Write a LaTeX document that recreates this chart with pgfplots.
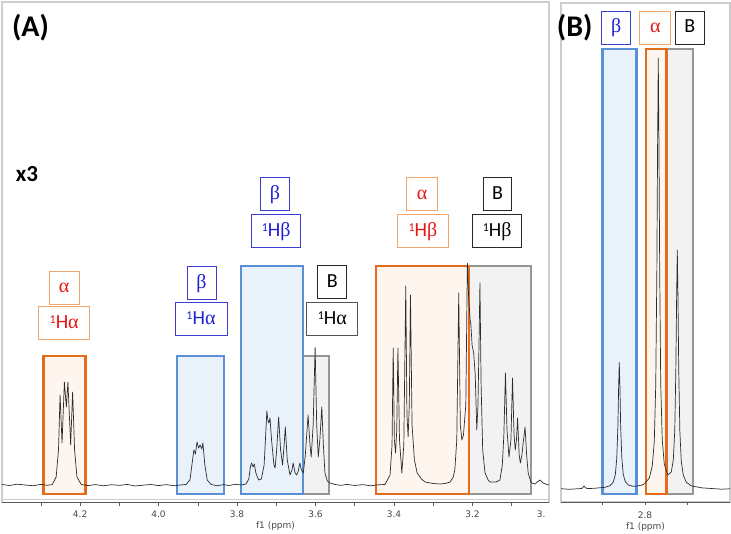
\documentclass[border=0pt]{standalone}
\usepackage{fontspec}
\setmainfont{Carlito}
\newfontfamily\dejavu{DejaVu Sans}
\newfontfamily\grk{Liberation Serif}
\usepackage{pgfplots}
\pgfplotsset{compat=1.18}
\definecolor{orgedge}{RGB}{226,110,28}
\definecolor{orgfill}{RGB}{253,245,238}
\definecolor{bluedge}{RGB}{90,145,214}
\definecolor{blufill}{RGB}{233,241,251}
\definecolor{gryedge}{RGB}{150,150,150}
\definecolor{gryfill}{RGB}{242,242,242}
\definecolor{framegray}{RGB}{205,205,205}
\definecolor{axisdark}{RGB}{90,90,90}
\definecolor{labgray}{RGB}{70,70,70}
\definecolor{lblorange}{RGB}{240,165,110}
\definecolor{lblred}{RGB}{230,20,20}
\definecolor{lblblue}{RGB}{60,60,215}
\definecolor{txtblue}{RGB}{30,30,210}
\definecolor{lblblack}{RGB}{40,40,40}
\definecolor{specline}{RGB}{45,45,45}
\newcommand{\Hl}[1]{\raisebox{5pt}{\fontsize{12}{12}\selectfont 1}H#1}
\tikzset{lab/.style={draw, line width=0.8pt, minimum height=33pt, inner sep=0pt, text height=12pt, text depth=1pt, font=\fontsize{20}{22}\selectfont}}
\pgfplotsset{nmr/.style={
  scale only axis, x dir=reverse,
  axis line style={draw=framegray, line width=1.2pt},
  ytick=\empty, xtick pos=left, tick align=outside,
  major tick length=3pt, minor tick length=3pt,
  tick style={draw=axisdark, line width=0.6pt},
  minor tick style={draw=axisdark, line width=0.6pt},
  xticklabel style={font=\dejavu\fontsize{9}{10}\selectfont, text=labgray},
  xlabel style={font=\dejavu\fontsize{9}{10}\selectfont, text=labgray, at={(rel axis cs:0.5,0)}, anchor=center},
  /pgf/number format/fixed, /pgf/number format/fixed zerofill,
  /pgf/number format/precision=1, /pgf/number format/assume math mode=true,
  line join=miter}}
\begin{document}
\begin{tikzpicture}
\useasboundingbox (0pt,0pt) rectangle (731pt,534pt);
% ---------------- Panel A ----------------
\begin{axis}[nmr, at={(2pt,31.3pt)}, anchor=south west, width=547pt, height=500.7pt,
  xmin=3.005, xmax=4.399, ymin=-17.7, ymax=483,
  xtick={3.2,3.4,3.6,3.8,4.0,4.2}, minor xtick={3.1,3.3,3.5,3.7,3.9,4.1,4.3},
  xlabel={f1 (ppm)}, xlabel style={yshift=-23pt}, xticklabel style={yshift=-1.5pt}]
\addplot[fill=gryfill, draw=gryedge, line width=2.2pt] coordinates {(3.631,-9) (3.566,-9) (3.566,129) (3.631,129)} -- cycle;
\addplot[fill=gryfill, draw=gryedge, line width=2.2pt] coordinates {(3.209,-9) (3.050,-9) (3.050,219) (3.209,219)} -- cycle;
\addplot[fill=blufill, draw=bluedge, line width=2.2pt] coordinates {(3.953,-9) (3.834,-9) (3.834,129) (3.953,129)} -- cycle;
\addplot[fill=blufill, draw=bluedge, line width=2.2pt] coordinates {(3.790,-9) (3.631,-9) (3.631,219) (3.790,219)} -- cycle;
\addplot[fill=orgfill, draw=orgedge, line width=2.2pt] coordinates {(4.293,-9) (4.186,-9) (4.186,129) (4.293,129)} -- cycle;
\addplot[fill=orgfill, draw=orgedge, line width=2.2pt] coordinates {(3.445,-9) (3.209,-9) (3.209,219) (3.445,219)} -- cycle;
\addplot[draw=specline, line width=0.7pt, line join=round] coordinates {
(4.399,0.5) (4.38,-0.5) (4.36,0.8) (4.34,0) (4.32,-0.7) (4.30,0.6) (4.285,-0.3)
(4.271,0.3) (4.261,8) (4.255,35) (4.251,90) (4.246,42) (4.240,103) (4.235,78)
(4.231,103) (4.224,40) (4.219,93) (4.214,35) (4.208,8) (4.197,0.5)
(4.18,-0.6) (4.16,0.4) (4.14,-0.8) (4.12,0.3) (4.10,-0.4) (4.08,0.6) (4.06,-1.0)
(4.04,-0.2) (4.02,0.5) (4.00,-0.6) (3.98,0.4) (3.96,-0.8) (3.945,0)
(3.930,0.5) (3.920,5) (3.915,20) (3.910,35) (3.906,31) (3.902,43) (3.898,37)
(3.894,40) (3.890,36) (3.887,42) (3.882,20) (3.876,5) (3.866,0.5)
(3.85,-0.8) (3.835,0.4) (3.82,-0.5) (3.805,0.7) (3.79,0)
(3.777,1) (3.770,6) (3.766,18) (3.763,22) (3.759,18) (3.756,21) (3.752,12)
(3.745,5) (3.738,6) (3.731,20) (3.727,50) (3.724,74) (3.721,64) (3.719,62)
(3.716,67) (3.712,45) (3.706,20) (3.703,17) (3.699,35) (3.694,68) (3.689,35)
(3.684,20) (3.680,40) (3.677,58) (3.672,25) (3.665,10) (3.660,15) (3.657,22)
(3.652,12) (3.648,10) (3.644,14) (3.640,22) (3.636,15) (3.631,12) (3.626,30)
(3.619,70) (3.614,40) (3.611,28) (3.606,60) (3.601,138) (3.597,60) (3.593,28)
(3.589,45) (3.584,78) (3.580,40) (3.576,12) (3.570,4) (3.563,2)
(3.55,0.5) (3.535,-0.4) (3.52,0.6) (3.50,-0.5) (3.48,0.4) (3.46,-0.8) (3.44,0.2)
(3.423,0.5) (3.410,10) (3.405,40) (3.402,137) (3.399,45) (3.396,32) (3.393,55)
(3.390,137) (3.386,45) (3.380,12) (3.375,40) (3.370,199) (3.367,70) (3.364,48)
(3.361,80) (3.358,190) (3.354,60) (3.348,25) (3.341,12) (3.33,6) (3.321,3)
(3.30,1.5) (3.283,1) (3.27,1.5) (3.257,3) (3.249,8) (3.245,15) (3.240,45)
(3.235,192) (3.231,60) (3.227,45) (3.223,50) (3.217,80) (3.213,222) (3.210,190)
(3.206,165) (3.204,160) (3.201,140) (3.197,132) (3.193,110) (3.189,55) (3.186,80)
(3.183,150) (3.181,202) (3.178,100) (3.174,35) (3.168,12) (3.160,5) (3.155,3)
(3.140,3) (3.130,5) (3.124,20) (3.120,50) (3.116,112) (3.112,55) (3.107,28)
(3.102,45) (3.098,107) (3.094,50) (3.091,35) (3.088,45) (3.085,67) (3.081,30)
(3.078,22) (3.074,30) (3.070,45) (3.066,58) (3.062,30) (3.058,12) (3.052,4)
(3.049,2) (3.04,1) (3.035,3) (3.028,5) (3.020,2) (3.010,0.5) (3.005,0)};
\end{axis}
\draw[draw=framegray, line width=1pt] (2pt,34.3pt) -- (549pt,34.3pt);
\draw[draw=axisdark, line width=0.9pt] (2pt,31.3pt) -- (549pt,31.3pt);
\node[anchor=north east, font=\dejavu\fontsize{9}{10}\selectfont, text=labgray] at (549pt,26.8pt) {3.};
% ---------------- Panel B ----------------
\begin{axis}[nmr, at={(561pt,32pt)}, anchor=south west, width=169pt, height=499pt,
  xmin=2.6995, xmax=2.8993, ymin=-13, ymax=486,
  xtick={2.8}, minor xtick={2.75,2.85},
  xlabel={f1 (ppm)}, xlabel style={yshift=-25pt},
  xticklabel style={yshift=-3pt}]
\addplot[fill=gryfill, draw=gryedge, line width=2.2pt] coordinates {(2.7740,-5) (2.7433,-5) (2.7433,440) (2.7740,440)} -- cycle;
\addplot[fill=blufill, draw=bluedge, line width=2.2pt] coordinates {(2.8502,-5) (2.8100,-5) (2.8100,440) (2.8502,440)} -- cycle;
\addplot[fill=orgfill, draw=orgedge, line width=2.2pt] coordinates {(2.7988,-5) (2.7746,-5) (2.7746,440) (2.7988,440)} -- cycle;
\addplot[draw=specline, line width=0.7pt, line join=round] coordinates {
(2.8993,0.3) (2.89,-0.3) (2.88,0.2) (2.875,0.5) (2.8735,1.5) (2.8721,3) (2.8705,1.3)
(2.868,0.4) (2.86,0.7) (2.8470,1.7) (2.8410,3.5) (2.8375,7) (2.8351,14.2) (2.8334,30.5)
(2.8320,63.5) (2.8312,101) (2.8304,126.5) (2.8296,101) (2.8288,64) (2.8274,31)
(2.8257,14.5) (2.8233,7.5) (2.8198,4) (2.8138,2.6) (2.805,3.6) (2.8008,5.1)
(2.7949,11) (2.7914,23) (2.7890,47.7) (2.7873,104) (2.7860,216) (2.7851,345)
(2.7843,431) (2.7835,345) (2.7826,216) (2.7814,105) (2.7796,49) (2.7772,25)
(2.7731,14) (2.7689,17) (2.7665,29.4) (2.7648,59) (2.7635,121) (2.7626,192)
(2.7618,239) (2.7610,191) (2.7601,120) (2.7588,58) (2.7571,27.6) (2.7547,13.8)
(2.7512,6.8) (2.7453,3.1) (2.7323,1.1) (2.72,0.4) (2.71,-0.2) (2.6995,0.2)};
\end{axis}
\draw[draw=axisdark, line width=0.9pt] (561pt,32pt) -- (730pt,32pt);
% ---------------- Labels ----------------
\node[font=\bfseries\fontsize{30}{32}\selectfont] at (30.5pt,506.5pt) {(A)};
\node[font=\bfseries\fontsize{23}{25}\selectfont] at (27pt,360pt) {x3};
\node[font=\bfseries\fontsize{30}{32}\selectfont] at (574.7pt,506pt) {(B)};
% panel A boxes
\node[lab, draw=lblorange, text=lblred, minimum width=30pt] at (64pt,246.5pt) {\grk α};
\node[lab, draw=lblorange, text=lblred, minimum width=51pt] at (64.2pt,211pt) {\Hl{\grk α}};
\node[lab, draw=lblblue, text=txtblue, minimum width=29pt] at (201.5pt,251pt) {\grk β};
\node[lab, draw=lblblue, text=txtblue, minimum width=52pt] at (201pt,215.3pt) {\Hl{\grk α}};
\node[lab, draw=lblblue, text=txtblue, minimum width=29pt] at (275pt,340pt) {\grk β};
\node[lab, draw=lblblue, text=txtblue, minimum width=49pt] at (276.2pt,303pt) {\Hl{\grk β}};
\node[lab, draw=lblblack, text=black, minimum width=29pt] at (332.3pt,252pt) {B};
\node[lab, draw=lblblack!80, text=black, minimum width=51pt] at (332.3pt,215.3pt) {\Hl{\grk α}};
\node[lab, draw=lblorange, text=lblred, minimum width=31pt] at (422pt,340pt) {\grk α};
\node[lab, draw=lblorange, text=lblred, minimum width=51pt] at (423pt,303pt) {\Hl{\grk β}};
\node[lab, draw=lblblack, text=black, minimum width=28pt] at (497.5pt,340pt) {B};
\node[lab, draw=lblblack, text=black, minimum width=49pt] at (497.2pt,303pt) {\Hl{\grk β}};
% panel B boxes
\node[lab, draw=lblblue, text=txtblue, minimum width=29pt] at (616.2pt,506.5pt) {\grk β};
\node[lab, draw=lblorange, text=lblred, minimum width=31pt] at (655.3pt,506.5pt) {\grk α};
\node[lab, draw=lblblack, text=black, minimum width=29pt] at (689.8pt,506.5pt) {B};
\end{tikzpicture}
\end{document}
